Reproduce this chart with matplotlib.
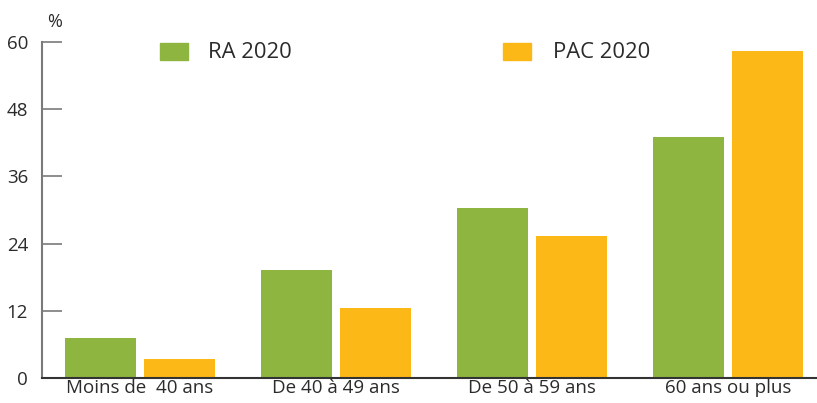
import matplotlib
matplotlib.use("Agg")
import matplotlib.pyplot as plt
import numpy as np
from matplotlib.patches import Rectangle

categories = ["Moins de  40 ans", "De 40 à 49 ans", "De 50 à 59 ans", "60 ans ou plus"]
ra_2020 = [7.2, 19.3, 30.4, 43.0]
pac_2020 = [3.4, 12.5, 25.4, 58.4]
series_names = ["RA 2020", "PAC 2020"]
yticks = [0, 12, 24, 36, 48, 60]

GREEN = "#8db53f"
ORANGE = "#fbb817"
TEXT = "#2b2b2b"
GRAY = "#7a7a7a"

plt.rcParams['font.family'] = ['Open Sans', 'DejaVu Sans']

W, H = 817, 403
fig = plt.figure(figsize=(W / 100, H / 100), dpi=100)
ax = fig.add_axes([42 / W, (H - 378) / H, (W - 42) / W, (378 - 42) / H])

x = np.arange(len(categories))
bw = 0.362
ax.bar(x - 0.2, ra_2020, width=bw, color=GREEN, label=series_names[0], zorder=2)
ax.bar(x + 0.2, pac_2020, width=bw, color=ORANGE, label=series_names[1], zorder=2)

ax.set_xlim(-0.5, (W - 140) / 196)
ax.set_ylim(0, 60)

for s in ["top", "right"]:
    ax.spines[s].set_visible(False)
ax.spines["left"].set_color(GRAY)
ax.spines["left"].set_linewidth(1.5)
ax.spines["bottom"].set_color("#333333")
ax.spines["bottom"].set_linewidth(1.5)

ax.set_yticks(yticks)
ax.set_yticklabels([str(v) for v in yticks], fontsize=13.5, color=TEXT)
ax.tick_params(axis="y", direction="in", length=14.4, width=1.2, color=GRAY, pad=10)
ax.set_xticks(x)
ax.set_xticklabels(categories, fontsize=13.5, color=TEXT)
ax.tick_params(axis="x", length=0, pad=1)

fig.text(47 / W, 1 - 22 / H, "%", fontsize=13, color=TEXT, va="center", ha="left")

for (sx, tx, col, name) in [(160, 208, GREEN, series_names[0]), (503, 553, ORANGE, series_names[1])]:
    fig.patches.append(Rectangle((sx / W, 1 - 60 / H), 28 / W, 17 / H, transform=fig.transFigure,
                                 color=col, figure=fig))
    fig.text(tx / W, 1 - 52 / H, name, fontsize=15.8, color=TEXT, va="center", ha="left")

fig.savefig("out.png", dpi=100)
